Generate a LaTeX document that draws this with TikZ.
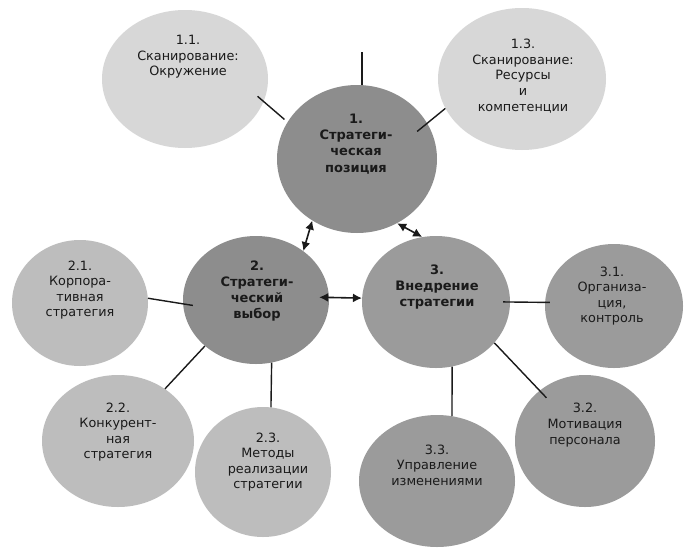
\documentclass[tikz,border=0pt]{standalone}
\usepackage{fontspec}
\setmainfont{DejaVu Sans}
\usetikzlibrary{shapes.geometric,arrows.meta}
\definecolor{lightfill}{HTML}{D7D7D7}
\definecolor{midfill}{HTML}{BDBDBD}
\definecolor{darkfill}{HTML}{8D8D8D}
\definecolor{implfill}{HTML}{9B9B9B}
\definecolor{txt}{HTML}{1A1A1A}
\definecolor{lin}{HTML}{1A1A1A}
\begin{document}
\begin{tikzpicture}[x=1pt,y=-1pt,
  bub/.style={ellipse,draw=none,inner sep=0pt},
  lbl/.style={align=center,font=\fontsize{12.8}{15.6}\selectfont,text=txt,inner sep=0pt},
  blbl/.style={align=center,font=\fontsize{13}{16.2}\selectfont\bfseries,text=txt,inner sep=0pt},
  con/.style={draw=lin,line width=1.4pt},
  dbl/.style={con,line width=1.6pt,{Latex[length=9pt,width=9pt]}-{Latex[length=9pt,width=9pt]}}
]
\useasboundingbox (0,0) rectangle (685,557);
\fill[white] (0,0) rectangle (685,557);

% bubbles
\node[bub,fill=lightfill,minimum width=166pt,minimum height=138pt] (c11) at (185,79) {};
\node[bub,fill=lightfill,minimum width=168pt,minimum height=142pt] (c13) at (522,79) {};
\node[bub,fill=darkfill,minimum width=160pt,minimum height=148pt] (c1) at (357,159) {};
\node[bub,fill=darkfill,minimum width=146pt,minimum height=128pt] (c2) at (256,300) {};
\node[bub,fill=midfill,minimum width=136pt,minimum height=126pt] (c21) at (80,303) {};
\node[bub,fill=midfill,minimum width=152pt,minimum height=132pt] (c22) at (118,441) {};
\node[bub,fill=midfill,minimum width=136pt,minimum height=130pt] (c23) at (263,472) {};
\node[bub,fill=implfill,minimum width=148pt,minimum height=132pt] (c3) at (436,302) {};
\node[bub,fill=implfill,minimum width=138pt,minimum height=124pt] (c31) at (614,306) {};
\node[bub,fill=implfill,minimum width=140pt,minimum height=132pt] (c32) at (585,441) {};
\node[bub,fill=implfill,minimum width=156pt,minimum height=132pt] (c33) at (437,481) {};

% connectors
\draw[con,shorten <=-8pt,shorten >=4pt] (c11.-16) -- (c1.152);
\draw[con] (c1.86) -- ++(0,-33) coordinate (c1up);
\draw[con,shorten <=-13pt] (c1.27) -- (c13.201);
\draw[dbl] (c2.46) -- (c1.234);
\draw[dbl] (c1.-58) -- (c3.102);
\draw[dbl,shorten <=-10pt] (c2.2) -- (c3.177);
\draw[con,shorten >=-10pt] (c21.4) -- (c2.183);
\draw[con] (c2.222) -- (c22.48);
\draw[con] (c2.-76) -- (c23.83);
\draw[con,shorten <=-7pt,shorten >=-5pt] (c3.0) -- (c31.177);
\draw[con,shorten >=-10pt] (c3.-35) -- (c32.132);
\draw[con] (c3.-76) -- (c33.77);

% labels
\node[lbl] (t11) at (188,57) {1.1.\\Сканирование:\\Окружение};
\node[lbl] (t13) at (523,76) {1.3.\\Сканирование:\\Ресурсы\\и\\компетенции};
\node[blbl] (t1) at (356,144) {1.\\Стратеги-\\ческая\\позиция};
\node[blbl] (t2) at (257,291) {2.\\Стратеги-\\ческий\\выбор};
\node[lbl] (t21) at (80,290) {2.1.\\Корпора-\\тивная\\стратегия};
\node[lbl] (t22) at (118,432) {2.2.\\Конкурент-\\ная\\стратегия};
\node[lbl] (t23) at (268,462) {2.3.\\Методы\\реализации\\стратегии};
\node[blbl] (t3) at (437,287) {3.\\Внедрение\\стратегии};
\node[lbl] (t31) at (612,296) {3.1.\\Организа-\\ция,\\контроль};
\node[lbl] (t32) at (585,425) {3.2.\\Мотивация\\персонала};
\node[lbl] (t33) at (437,465) {3.3.\\Управление\\изменениями};
\end{tikzpicture}
\end{document}
